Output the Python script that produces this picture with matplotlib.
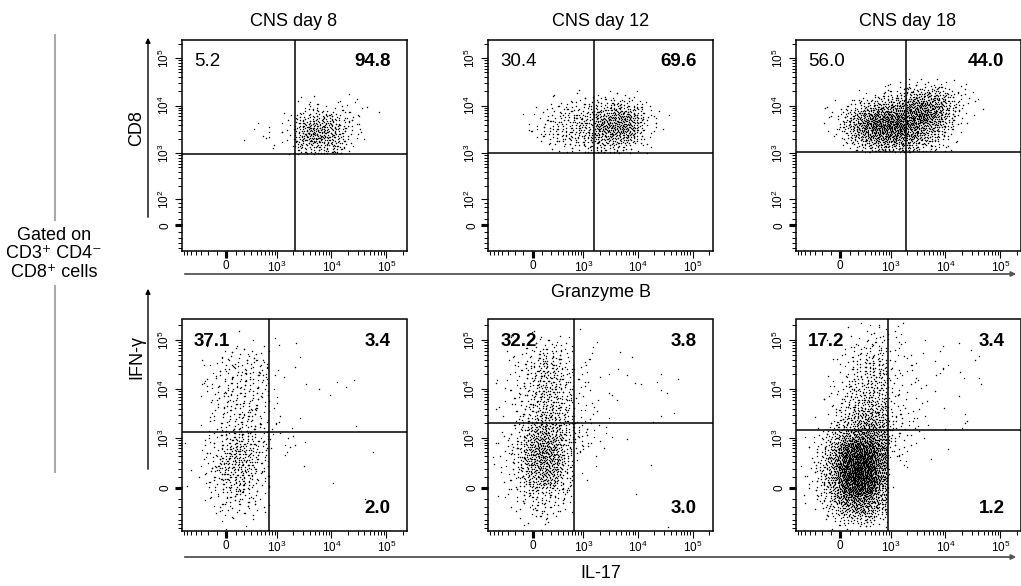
import numpy as np
import matplotlib
matplotlib.use("Agg")
import matplotlib.pyplot as plt
from matplotlib.patches import FancyArrowPatch
from matplotlib.lines import Line2D
from matplotlib.ticker import FixedLocator, FixedFormatter

plt.rcParams["font.family"] = ["Liberation Sans", "DejaVu Sans"]
plt.rcParams["mathtext.fontset"] = "custom"
plt.rcParams["mathtext.rm"] = "Liberation Sans"
plt.rcParams["mathtext.it"] = "Liberation Sans:italic"
plt.rcParams["mathtext.bf"] = "Liberation Sans:bold"

# ---------------------------------------------------------------- text
titles = ["CNS day 8", "CNS day 12", "CNS day 18"]
x_labels = ["Granzyme B", "IL-17"]
y_labels = ["CD8", "IFN-γ"]
gate_text = "Gated on\nCD3⁺ CD4⁻\nCD8⁺ cells"

# ---------------------------------------------------------------- scales
# arcsinh cofactors of the display transforms
x_cofactor = 241.0
y_cofactor = [61.0, 192.0]          # top row (CD8), bottom row (IFN-γ)
x_limits = (-770, 234000)
y_limits = [(-95, 247000), (-694, 262000)]

# ---------------------------------------------------------------- gates
gate_x = [[2150, 1600, 1900], [710, 650, 880]]
gate_y = [[960, 1000, 1050], [1320, 2030, 1450]]

# quadrant frequencies (%): top row (UL, UR), bottom row (UL, UR, LR)
freq_top = [(5.2, 94.8), (30.4, 69.6), (56.0, 44.0)]
freq_bottom = [(37.1, 3.4, 2.0), (32.2, 3.8, 3.0), (17.2, 3.4, 1.2)]

# ---------------------------------------------------------------- events
# Event counts binned on a 0.5-unit grid in arcsinh space, anchored at the
# quadrant gates. Rows run top -> bottom, columns left -> right.
# n_left = bins left of the x gate, n_below = bins below the y gate.
cd8_day8 = [
    [0, 0, 0, 0, 1, 1, 1, 1, 1, 1, 0],
    [0, 0, 0, 0, 3, 5, 5, 5, 4, 2, 2],
    [0, 0, 0, 3, 12, 20, 23, 15, 6, 2, 0],
    [2, 1, 2, 4, 25, 41, 40, 25, 8, 2, 0],
    [1, 2, 3, 4, 25, 40, 36, 25, 8, 2, 0],
    [0, 0, 1, 2, 12, 18, 18, 15, 5, 0, 0],
]
cd8_day12 = [
    [0, 0, 1, 2, 2, 3, 3, 5, 4, 2, 0, 0],
    [0, 1, 4, 7, 10, 10, 15, 22, 22, 14, 4, 1],
    [1, 4, 8, 12, 16, 18, 35, 45, 45, 30, 6, 2],
    [2, 6, 12, 15, 20, 22, 40, 50, 50, 30, 6, 1],
    [1, 4, 10, 14, 16, 20, 30, 38, 35, 18, 4, 0],
    [0, 0, 3, 4, 6, 8, 12, 14, 10, 5, 2, 0],
]
cd8_day18 = [
    [0, 0, 0, 0, 0, 2, 3, 6, 8, 6, 3, 2, 1],
    [0, 0, 1, 3, 6, 10, 15, 25, 35, 30, 18, 8, 2],
    [1, 3, 8, 18, 28, 35, 40, 55, 55, 50, 25, 10, 2],
    [2, 8, 25, 45, 60, 65, 71, 70, 71, 50, 22, 8, 1],
    [2, 10, 30, 60, 80, 80, 76, 55, 50, 35, 15, 3, 0],
    [0, 5, 18, 40, 55, 60, 55, 45, 35, 20, 8, 1, 0],
    [0, 0, 5, 15, 25, 30, 25, 25, 15, 8, 2, 0, 0],
]
ifn_day8 = [
    [0, 0, 0, 0, 1, 0, 0, 0, 0, 0, 0, 0, 0, 0, 0, 0],
    [0, 0, 0, 0, 1, 0, 1, 2, 0, 1, 0, 0, 0, 0, 0, 0],
    [0, 0, 1, 3, 5, 5, 4, 0, 0, 1, 0, 0, 0, 0, 0, 0],
    [0, 1, 3, 6, 8, 8, 6, 0, 0, 0, 0, 0, 0, 0, 0, 0],
    [0, 1, 4, 8, 9, 10, 7, 3, 0, 1, 0, 0, 0, 0, 0, 0],
    [1, 2, 5, 8, 11, 10, 7, 0, 0, 0, 2, 0, 1, 1, 1, 0],
    [1, 1, 4, 9, 10, 10, 7, 2, 0, 0, 0, 0, 1, 0, 0, 0],
    [0, 1, 4, 8, 10, 9, 6, 3, 0, 0, 0, 0, 0, 0, 0, 0],
    [0, 1, 3, 8, 10, 9, 6, 2, 0, 0, 0, 0, 0, 0, 0, 0],
    [0, 1, 4, 9, 12, 11, 7, 2, 2, 1, 0, 0, 0, 0, 1, 0],
    [1, 2, 5, 12, 14, 12, 6, 3, 2, 2, 0, 0, 0, 0, 0, 0],
    [0, 2, 8, 16, 25, 16, 8, 2, 2, 1, 0, 0, 0, 0, 0, 0],
    [1, 3, 9, 23, 25, 18, 8, 0, 0, 0, 0, 0, 0, 0, 0, 1],
    [1, 3, 9, 22, 25, 16, 7, 0, 0, 0, 1, 0, 0, 0, 0, 0],
    [0, 2, 7, 15, 20, 13, 6, 0, 0, 0, 0, 0, 1, 0, 0, 0],
    [1, 2, 5, 11, 13, 10, 4, 0, 0, 0, 0, 0, 0, 0, 1, 0],
    [0, 1, 4, 8, 9, 7, 3, 0, 0, 0, 0, 0, 0, 0, 0, 0],
    [0, 0, 2, 5, 5, 4, 2, 0, 0, 0, 0, 0, 0, 0, 0, 0],
    [0, 0, 0, 2, 1, 1, 0, 0, 0, 0, 0, 0, 0, 0, 0, 0],
]
ifn_day12 = [
    [0, 0, 0, 1, 2, 1, 0, 1, 0, 0, 0, 0, 0, 0, 0, 0],
    [0, 0, 2, 3, 5, 5, 3, 0, 2, 0, 0, 0, 0, 0, 0, 0],
    [0, 1, 3, 7, 14, 9, 6, 0, 2, 0, 0, 2, 0, 0, 0, 0],
    [0, 1, 5, 10, 18, 13, 8, 3, 2, 1, 0, 0, 0, 0, 0, 0],
    [0, 2, 6, 12, 20, 15, 9, 3, 2, 0, 1, 1, 1, 1, 0, 1],
    [1, 2, 7, 13, 21, 19, 9, 3, 1, 1, 0, 0, 1, 0, 2, 0],
    [0, 2, 6, 13, 21, 19, 10, 4, 1, 0, 1, 1, 0, 0, 1, 0],
    [1, 2, 6, 13, 22, 21, 11, 4, 2, 0, 0, 0, 0, 0, 0, 1],
    [0, 2, 6, 15, 25, 23, 12, 5, 2, 2, 0, 0, 0, 1, 1, 0],
    [0, 2, 8, 25, 31, 27, 12, 10, 4, 2, 0, 0, 0, 0, 0, 0],
    [1, 4, 12, 33, 42, 36, 14, 8, 4, 1, 0, 1, 0, 0, 0, 0],
    [1, 5, 14, 38, 47, 40, 14, 4, 3, 1, 0, 0, 0, 0, 0, 0],
    [1, 5, 14, 38, 46, 38, 12, 2, 0, 1, 0, 0, 0, 0, 0, 0],
    [0, 4, 12, 33, 40, 32, 10, 1, 0, 0, 0, 0, 0, 1, 0, 0],
    [0, 3, 9, 26, 32, 24, 8, 0, 1, 0, 0, 0, 0, 0, 0, 0],
    [1, 2, 7, 14, 17, 13, 6, 0, 0, 0, 0, 0, 1, 0, 0, 0],
    [0, 1, 4, 10, 12, 9, 3, 0, 0, 0, 0, 0, 0, 0, 0, 0],
    [0, 0, 2, 5, 6, 4, 1, 0, 0, 0, 0, 0, 0, 0, 0, 0],
    [0, 0, 0, 2, 2, 1, 0, 0, 0, 0, 0, 0, 0, 0, 1, 0],
]
ifn_day18 = [
    [0, 0, 0, 0, 0, 0, 1, 1, 0, 0, 0, 0, 0, 0, 0, 0, 0],
    [0, 0, 0, 0, 0, 1, 4, 4, 2, 1, 0, 0, 0, 0, 0, 0, 0],
    [0, 0, 0, 1, 1, 3, 6, 5, 3, 2, 1, 0, 0, 0, 0, 0, 0],
    [0, 0, 0, 1, 3, 6, 9, 8, 3, 2, 1, 0, 2, 0, 2, 1, 0],
    [0, 0, 0, 1, 4, 9, 13, 12, 4, 2, 2, 1, 1, 0, 0, 1, 0],
    [0, 0, 0, 1, 5, 12, 16, 15, 4, 3, 2, 1, 2, 2, 0, 1, 0],
    [0, 0, 0, 2, 7, 14, 18, 17, 4, 2, 2, 1, 0, 1, 0, 1, 0],
    [0, 0, 0, 3, 9, 16, 20, 18, 5, 3, 1, 0, 1, 1, 0, 0, 0],
    [0, 0, 1, 4, 11, 20, 25, 20, 5, 3, 2, 1, 0, 0, 0, 0, 0],
    [0, 0, 1, 6, 15, 28, 32, 27, 8, 4, 3, 0, 1, 0, 1, 0, 0],
    [0, 0, 2, 9, 22, 38, 41, 34, 11, 5, 3, 0, 1, 0, 2, 1, 0],
    [0, 1, 5, 18, 40, 55, 55, 40, 10, 4, 2, 0, 0, 0, 0, 0, 0],
    [0, 2, 8, 28, 75, 95, 85, 50, 8, 4, 1, 0, 0, 1, 0, 0, 0],
    [0, 3, 12, 40, 95, 120, 105, 55, 4, 2, 0, 0, 1, 0, 0, 0, 0],
    [0, 5, 15, 45, 110, 135, 115, 55, 2, 1, 0, 0, 0, 0, 0, 0, 0],
    [0, 3, 14, 42, 105, 130, 110, 50, 1, 0, 0, 0, 0, 0, 0, 0, 0],
    [0, 4, 10, 35, 85, 105, 90, 40, 1, 0, 0, 0, 0, 0, 0, 0, 0],
    [0, 2, 8, 25, 55, 65, 55, 30, 0, 0, 0, 0, 0, 0, 0, 0, 0],
    [0, 0, 4, 15, 35, 42, 35, 18, 0, 0, 0, 0, 0, 0, 0, 0, 0],
    [0, 0, 1, 5, 14, 18, 14, 6, 0, 0, 0, 0, 0, 0, 0, 0, 0],
]
event_grids = [[cd8_day8, cd8_day12, cd8_day18], [ifn_day8, ifn_day12, ifn_day18]]
n_left = [[4, 6, 7], [7, 7, 8]]
n_below = [[0, 0, 0], [9, 10, 9]]

# ---------------------------------------------------------------- layout
W, H = 1021, 586
PANEL_LEFT = [181.5, 488.0, 795.5]
PANEL_TOP = [39.5, 319.5]
PW, PH = 225.0, 211.0
BIN = 0.5
R2A, R2B = 0.7548776662466927, 0.5698402909980532   # plastic-number fill sequence


def fx(px):
    return px / W


def fy(py):
    return 1.0 - py / H


def asinh_functions(c):
    return (lambda v: np.arcsinh(np.asarray(v, dtype=float) / c),
            lambda u: c * np.sinh(np.asarray(u, dtype=float)))


def tent(q):
    """Map evenly spread values in [0, 1) onto a tent profile over [-1, 1]."""
    return np.where(q < 0.5, -1 + np.sqrt(2 * q), 1 - np.sqrt(2 * (1 - q)))


def grid_events(counts, nl, nb, gx, gy, cx, cy):
    """Dot-density rendering: each bin's events are laid out with a tent profile
    reaching the neighbouring bin centres, so the density varies smoothly."""
    ugx, ugy = np.arcsinh(gx / cx), np.arcsinh(gy / cy)
    counts = np.asarray(counts)
    n_rows, n_cols = counts.shape
    xs, ys, k = [], [], 0
    for r in range(n_rows):
        j = n_rows - nb - 1 - r          # bin index relative to the y gate
        y_mid = ugy + (j + 0.5) * BIN
        for c in range(n_cols):
            n = int(counts[r, c])
            if n == 0:
                continue
            i = c - nl                   # bin index relative to the x gate
            x_mid = ugx + (i + 0.5) * BIN
            idx = np.arange(k, k + n)
            k += n
            ux = x_mid + BIN * tent((0.5 + idx * R2A) % 1.0)
            uy = y_mid + BIN * tent((0.5 + idx * R2B) % 1.0)
            # keep every event inside its own quadrant
            ux = np.where(ux > ugx, 2 * ugx - ux, ux) if i < 0 else np.where(ux < ugx, 2 * ugx - ux, ux)
            uy = np.where(uy > ugy, 2 * ugy - uy, uy) if j < 0 else np.where(uy < ugy, 2 * ugy - uy, uy)
            xs.append(cx * np.sinh(ux))
            ys.append(cy * np.sinh(uy))
    return np.concatenate(xs), np.concatenate(ys)


def pow_label(e):
    return r"$10^{%d}$" % e


x_major = [-12, 0, 12, 1e3, 1e4, 1e5]
x_major_lbl = ["", "0", "", pow_label(3), pow_label(4), pow_label(5)]
x_minor = ([-700, -600, -500, -400, -300, -200, -100]
           + [100 * m for m in range(1, 10)]
           + [1000 * m for m in range(2, 10)]
           + [10000 * m for m in range(2, 10)] + [200000])

y_major = [[-3, 0, 3, 100, 1e3, 1e4, 1e5], [-10, 0, 10, 1e3, 1e4, 1e5]]
y_major_lbl = [["", "0", "", pow_label(2), pow_label(3), pow_label(4), pow_label(5)],
               ["", "0", "", pow_label(3), pow_label(4), pow_label(5)]]
y_minor = [[-80, -60, -40, -20, 20, 40, 60, 80]
           + [100 * m for m in range(2, 10)]
           + [1000 * m for m in range(2, 10)]
           + [10000 * m for m in range(2, 10)] + [200000],
           [-600, -500, -400, -300, -200, -100]
           + [100 * m for m in range(1, 10)]
           + [1000 * m for m in range(2, 10)]
           + [10000 * m for m in range(2, 10)] + [200000]]

fig = plt.figure(figsize=(W / 100, H / 100), dpi=100)

QFONT = 13.5
for row in range(2):
    for col in range(3):
        left, top = PANEL_LEFT[col], PANEL_TOP[row]
        ax = fig.add_axes([fx(left), fy(top + PH), PW / W, PH / H])
        ax.set_xscale("function", functions=asinh_functions(x_cofactor))
        ax.set_yscale("function", functions=asinh_functions(y_cofactor[row]))
        ax.set_xlim(*x_limits)
        ax.set_ylim(*y_limits[row])

        gx, gy = gate_x[row][col], gate_y[row][col]
        ex, ey = grid_events(event_grids[row][col], n_left[row][col], n_below[row][col],
                             gx, gy, x_cofactor, y_cofactor[row])
        ax.scatter(ex, ey, s=1.1, marker="o", c="black", linewidths=0, zorder=2)

        ax.axvline(gx, color="black", lw=1.1, zorder=3)
        ax.axhline(gy, color="black", lw=1.1, zorder=3)

        for sp in ax.spines.values():
            sp.set_linewidth(1.1)
            sp.set_color("black")

        ax.xaxis.set_major_locator(FixedLocator(x_major))
        ax.xaxis.set_major_formatter(FixedFormatter(x_major_lbl))
        ax.xaxis.set_minor_locator(FixedLocator(x_minor))
        ax.xaxis.set_minor_formatter(FixedFormatter([""] * len(x_minor)))
        ax.yaxis.set_major_locator(FixedLocator(y_major[row]))
        ax.yaxis.set_major_formatter(FixedFormatter(y_major_lbl[row]))
        ax.yaxis.set_minor_locator(FixedLocator(y_minor[row]))
        ax.yaxis.set_minor_formatter(FixedFormatter([""] * len(y_minor[row])))
        ax.tick_params(which="major", direction="out", length=5, width=0.8,
                       labelsize=8.5, pad=2, color="black")
        ax.tick_params(which="minor", direction="out", length=3, width=0.7, color="black")
        ax.tick_params(axis="y", labelrotation=90)
        for lbl in ax.get_yticklabels():
            lbl.set_va("center")

        # quadrant frequencies
        lx, rx = 12.5 / PW, 1 - 16 / PW
        ty, by = 1 - 22 / PH, 22 / PH
        if row == 0:
            ul, ur = freq_top[col]
            ax.text(lx, ty, f"{ul:.1f}", transform=ax.transAxes, ha="left", va="center",
                    fontsize=QFONT)
            ax.text(rx, ty, f"{ur:.1f}", transform=ax.transAxes, ha="right", va="center",
                    fontsize=QFONT, fontweight="bold")
            fig.text(fx(left + PW / 2), fy(26), titles[col], ha="center", va="baseline",
                     fontsize=13)
        else:
            ul, ur, lr = freq_bottom[col]
            ax.text(lx, ty, f"{ul:.1f}", transform=ax.transAxes, ha="left", va="center",
                    fontsize=QFONT, fontweight="bold")
            ax.text(rx, ty, f"{ur:.1f}", transform=ax.transAxes, ha="right", va="center",
                    fontsize=QFONT, fontweight="bold")
            ax.text(rx, by, f"{lr:.1f}", transform=ax.transAxes, ha="right", va="center",
                    fontsize=QFONT, fontweight="bold")

# axis arrows and labels
for row, (ay0, ay1, hy, lab_y, xl_base) in enumerate([(220, 35, 274, 128, 297),
                                                       (472, 286, 557, 357, 578)]):
    fig.add_artist(FancyArrowPatch((fx(148), fy(ay0)), (fx(148), fy(ay1)),
                                   transform=fig.transFigure, arrowstyle="-|>",
                                   mutation_scale=7, lw=1.0, color="black"))
    fig.add_artist(FancyArrowPatch((fx(182), fy(hy)), (fx(1019), fy(hy)),
                                   transform=fig.transFigure, arrowstyle="-|>",
                                   mutation_scale=7, lw=1.3, color="#555555"))
    fig.text(fx(137), fy(lab_y), y_labels[row], rotation=90, ha="center", va="center",
             fontsize=13)
    fig.text(fx(601), fy(xl_base), x_labels[row], ha="center", va="baseline", fontsize=13)
    fig.add_artist(Line2D([fx(55), fx(55)], [fy(ay1), fy(ay0)], color="#aaaaaa", lw=1.5))

fig.text(fx(54), fy(254), gate_text, ha="center", va="center", fontsize=13,
         linespacing=1.15)

fig.savefig("out.png", dpi=100)
